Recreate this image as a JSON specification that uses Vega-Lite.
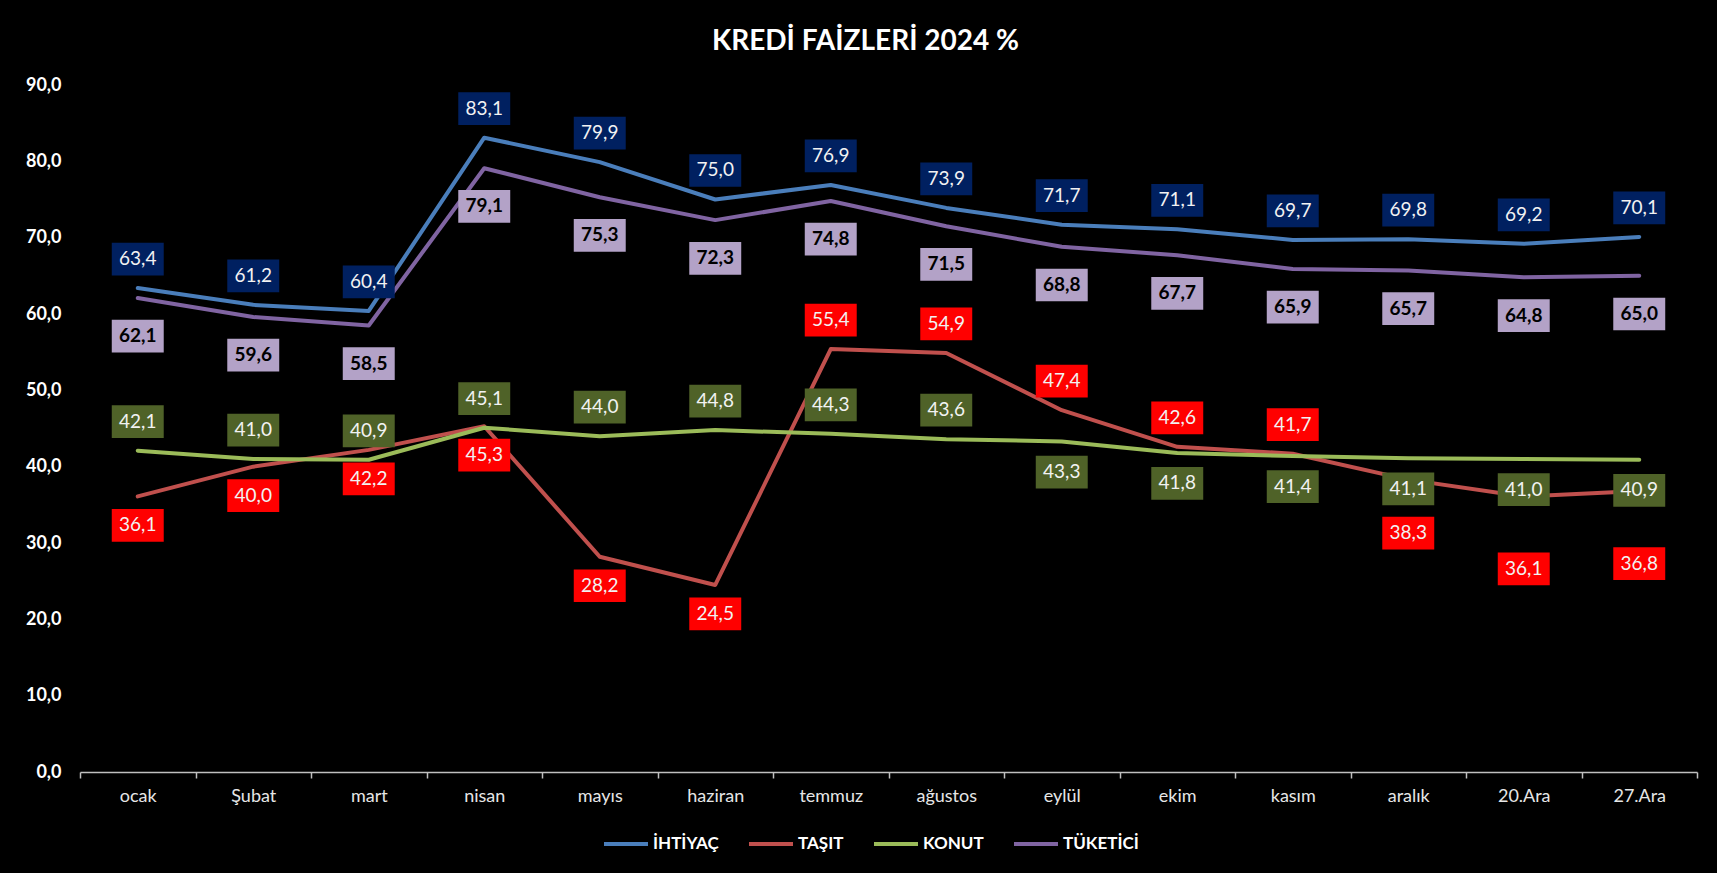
{
  "$schema": "https://vega.github.io/schema/vega-lite/v6.json",
  "autosize": {"type": "none"},
  "width": 1617,
  "height": 687,
  "padding": {"left": 80, "top": 85, "right": 20, "bottom": 101},
  "background": "#000000",
  "title": {
    "text": "KREDİ FAİZLERİ 2024 %",
    "color": "#ffffff",
    "font": "Lato",
    "fontSize": 28,
    "fontWeight": "bold",
    "anchor": "middle",
    "offset": 20,
    "dx": -23
  },
  "data": {
    "values": [
      {"ay": "ocak", "seri": "İHTİYAÇ", "deger": 63.4},
      {"ay": "Şubat", "seri": "İHTİYAÇ", "deger": 61.2},
      {"ay": "mart", "seri": "İHTİYAÇ", "deger": 60.4},
      {"ay": "nisan", "seri": "İHTİYAÇ", "deger": 83.1},
      {"ay": "mayıs", "seri": "İHTİYAÇ", "deger": 79.9},
      {"ay": "haziran", "seri": "İHTİYAÇ", "deger": 75.0},
      {"ay": "temmuz", "seri": "İHTİYAÇ", "deger": 76.9},
      {"ay": "ağustos", "seri": "İHTİYAÇ", "deger": 73.9},
      {"ay": "eylül", "seri": "İHTİYAÇ", "deger": 71.7},
      {"ay": "ekim", "seri": "İHTİYAÇ", "deger": 71.1},
      {"ay": "kasım", "seri": "İHTİYAÇ", "deger": 69.7},
      {"ay": "aralık", "seri": "İHTİYAÇ", "deger": 69.8},
      {"ay": "20.Ara", "seri": "İHTİYAÇ", "deger": 69.2},
      {"ay": "27.Ara", "seri": "İHTİYAÇ", "deger": 70.1},
      {"ay": "ocak", "seri": "TAŞIT", "deger": 36.1},
      {"ay": "Şubat", "seri": "TAŞIT", "deger": 40.0},
      {"ay": "mart", "seri": "TAŞIT", "deger": 42.2},
      {"ay": "nisan", "seri": "TAŞIT", "deger": 45.3},
      {"ay": "mayıs", "seri": "TAŞIT", "deger": 28.2},
      {"ay": "haziran", "seri": "TAŞIT", "deger": 24.5},
      {"ay": "temmuz", "seri": "TAŞIT", "deger": 55.4},
      {"ay": "ağustos", "seri": "TAŞIT", "deger": 54.9},
      {"ay": "eylül", "seri": "TAŞIT", "deger": 47.4},
      {"ay": "ekim", "seri": "TAŞIT", "deger": 42.6},
      {"ay": "kasım", "seri": "TAŞIT", "deger": 41.7},
      {"ay": "aralık", "seri": "TAŞIT", "deger": 38.3},
      {"ay": "20.Ara", "seri": "TAŞIT", "deger": 36.1},
      {"ay": "27.Ara", "seri": "TAŞIT", "deger": 36.8},
      {"ay": "ocak", "seri": "KONUT", "deger": 42.1},
      {"ay": "Şubat", "seri": "KONUT", "deger": 41.0},
      {"ay": "mart", "seri": "KONUT", "deger": 40.9},
      {"ay": "nisan", "seri": "KONUT", "deger": 45.1},
      {"ay": "mayıs", "seri": "KONUT", "deger": 44.0},
      {"ay": "haziran", "seri": "KONUT", "deger": 44.8},
      {"ay": "temmuz", "seri": "KONUT", "deger": 44.3},
      {"ay": "ağustos", "seri": "KONUT", "deger": 43.6},
      {"ay": "eylül", "seri": "KONUT", "deger": 43.3},
      {"ay": "ekim", "seri": "KONUT", "deger": 41.8},
      {"ay": "kasım", "seri": "KONUT", "deger": 41.4},
      {"ay": "aralık", "seri": "KONUT", "deger": 41.1},
      {"ay": "20.Ara", "seri": "KONUT", "deger": 41.0},
      {"ay": "27.Ara", "seri": "KONUT", "deger": 40.9},
      {"ay": "ocak", "seri": "TÜKETİCİ", "deger": 62.1},
      {"ay": "Şubat", "seri": "TÜKETİCİ", "deger": 59.6},
      {"ay": "mart", "seri": "TÜKETİCİ", "deger": 58.5},
      {"ay": "nisan", "seri": "TÜKETİCİ", "deger": 79.1},
      {"ay": "mayıs", "seri": "TÜKETİCİ", "deger": 75.3},
      {"ay": "haziran", "seri": "TÜKETİCİ", "deger": 72.3},
      {"ay": "temmuz", "seri": "TÜKETİCİ", "deger": 74.8},
      {"ay": "ağustos", "seri": "TÜKETİCİ", "deger": 71.5},
      {"ay": "eylül", "seri": "TÜKETİCİ", "deger": 68.8},
      {"ay": "ekim", "seri": "TÜKETİCİ", "deger": 67.7},
      {"ay": "kasım", "seri": "TÜKETİCİ", "deger": 65.9},
      {"ay": "aralık", "seri": "TÜKETİCİ", "deger": 65.7},
      {"ay": "20.Ara", "seri": "TÜKETİCİ", "deger": 64.8},
      {"ay": "27.Ara", "seri": "TÜKETİCİ", "deger": 65.0}
    ]
  },
  "transform": [
    {"calculate": "replace(format(datum.deger, '.1f'), '.', ',')", "as": "etiket"},
    {"calculate": "datum.seri === 'İHTİYAÇ' ? datum.deger + 3.8 : datum.seri === 'TÜKETİCİ' ? datum.deger - 5 : datum.seri === 'TAŞIT' ? (indexof(['temmuz','ağustos','eylül','ekim','kasım'], datum.ay) >= 0 ? datum.deger + 3.8 : (datum.ay === 'aralık' ? datum.deger - 7 : (indexof(['20.Ara','27.Ara'], datum.ay) >= 0 ? datum.deger - 9.5 : datum.deger - 3.8))) : (indexof(['ocak','Şubat','mart','nisan','mayıs','haziran','temmuz','ağustos'], datum.ay) >= 0 ? datum.deger + 3.8 : datum.deger - 4)", "as": "etiketY"}
  ],
  "encoding": {
    "x": {
      "field": "ay",
      "type": "nominal",
      "sort": ["ocak", "Şubat", "mart", "nisan", "mayıs", "haziran", "temmuz", "ağustos", "eylül", "ekim", "kasım", "aralık", "20.Ara", "27.Ara"],
      "scale": {"type": "band", "paddingInner": 0, "paddingOuter": 0},
      "axis": {
        "title": null,
        "labelAngle": 0,
        "domainColor": "#bfbfbf",
        "domainWidth": 1.5,
        "tickColor": "#bfbfbf",
        "tickWidth": 1.5,
        "tickSize": 6,
        "tickBand": "extent",
        "labelColor": "#e6e6e6",
        "labelFont": "Lato",
        "labelFontSize": 18,
        "labelPadding": 9,
        "grid": false
      }
    }
  },
  "layer": [
    {
      "mark": {"type": "line", "strokeWidth": 4, "strokeCap": "round", "strokeJoin": "round"},
      "encoding": {
        "y": {
          "field": "deger",
          "type": "quantitative",
          "scale": {"domain": [0, 90], "nice": false, "zero": true},
          "axis": {
            "title": null,
            "values": [0, 10, 20, 30, 40, 50, 60, 70, 80, 90],
            "labelExpr": "replace(format(datum.value, '.1f'), '.', ',')",
            "domain": false,
            "ticks": false,
            "grid": false,
            "labelColor": "#ffffff",
            "labelFont": "Lato",
            "labelFontSize": 18,
            "labelFontWeight": "bold",
            "labelPadding": 19
          }
        },
        "color": {
          "field": "seri",
          "type": "nominal",
          "scale": {
            "domain": ["İHTİYAÇ", "TAŞIT", "KONUT", "TÜKETİCİ"],
            "range": ["#4a7ebb", "#c0504d", "#9bbb59", "#8064a2"]
          },
          "legend": {
            "title": null,
            "orient": "none",
            "legendX": 522,
            "legendY": 735,
            "direction": "horizontal",
            "symbolType": "stroke",
            "symbolSize": 1936,
            "symbolStrokeWidth": 4,
            "labelColor": "#ffffff",
            "labelFont": "Lato",
            "labelFontSize": 17,
            "labelFontWeight": "bold",
            "labelOffset": 3,
            "columnPadding": 22
          }
        }
      }
    },
    {
      "mark": {"type": "point", "filled": true, "opacity": 1, "strokeWidth": 0, "size": 2700, "shape": "M-1,-0.63L1,-0.63L1,0.63L-1,0.63Z"},
      "encoding": {
        "y": {"field": "etiketY", "type": "quantitative"},
        "fill": {
          "field": "seri",
          "type": "nominal",
          "scale": {
            "domain": ["İHTİYAÇ", "TAŞIT", "KONUT", "TÜKETİCİ"],
            "range": ["#002060", "#ff0000", "#4f6228", "#b3a2c7"]
          },
          "legend": null
        }
      }
    },
    {
      "transform": [{"filter": "datum.seri !== 'TÜKETİCİ'"}],
      "mark": {"type": "text", "font": "Lato", "fontSize": 19, "color": "#f2f2f2", "align": "center", "baseline": "middle"},
      "encoding": {
        "y": {"field": "etiketY", "type": "quantitative"},
        "text": {"field": "etiket"}
      }
    },
    {
      "transform": [{"filter": "datum.seri === 'TÜKETİCİ'"}],
      "mark": {"type": "text", "font": "Lato", "fontSize": 19, "fontWeight": "bold", "color": "#000000", "align": "center", "baseline": "middle"},
      "encoding": {
        "y": {"field": "etiketY", "type": "quantitative"},
        "text": {"field": "etiket"}
      }
    }
  ],
  "config": {
    "view": {"stroke": null}
  }
}
